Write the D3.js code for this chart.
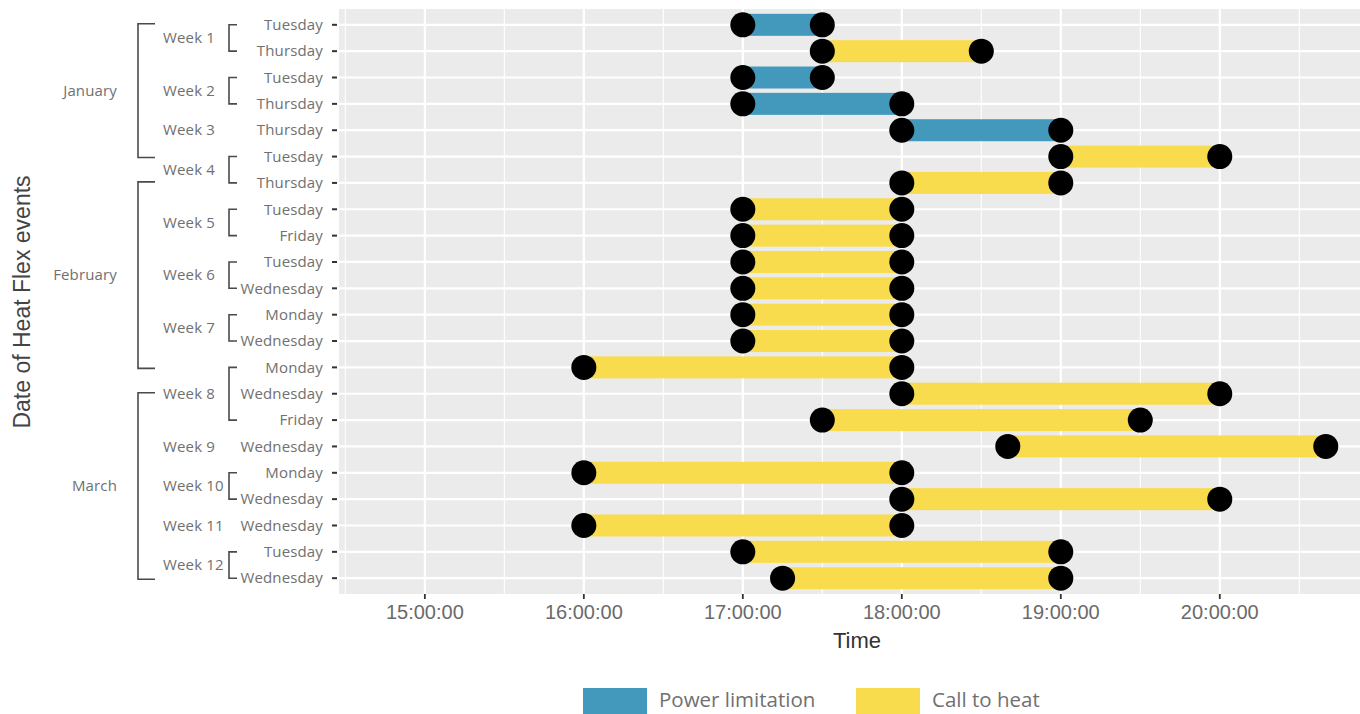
<!DOCTYPE html>
<html><head><meta charset="utf-8">
<script src="https://cdn.jsdelivr.net/npm/d3@7"></script>
<style>body{margin:0;background:#fff;} svg{display:block;}</style>
</head><body>
<svg id="c" width="1360" height="714"></svg>
<script>
// ---- data ----
const days = ["Tuesday","Thursday","Tuesday","Thursday","Thursday","Tuesday","Thursday","Tuesday","Friday","Tuesday","Wednesday","Monday","Wednesday","Monday","Wednesday","Friday","Wednesday","Monday","Wednesday","Wednesday","Tuesday","Wednesday"];
const weeks = [1,1,2,2,3,4,4,5,5,6,6,7,7,8,8,8,9,10,10,11,12,12];
const months = ["January","January","January","January","January","January","February","February","February","February","February","February","February","February","March","March","March","March","March","March","March","March"];
const startTimes = ["17:00","17:30","17:00","17:00","18:00","19:00","18:00","17:00","17:00","17:00","17:00","17:00","17:00","16:00","18:00","17:30","18:40","16:00","18:00","16:00","17:00","17:15"];
const endTimes   = ["17:30","18:30","17:30","18:00","19:00","20:00","19:00","18:00","18:00","18:00","18:00","18:00","18:00","18:00","20:00","19:30","20:40","18:00","20:00","18:00","19:00","19:00"];
const eventTypes = ["Power limitation","Call to heat","Power limitation","Power limitation","Power limitation","Call to heat","Call to heat","Call to heat","Call to heat","Call to heat","Call to heat","Call to heat","Call to heat","Call to heat","Call to heat","Call to heat","Call to heat","Call to heat","Call to heat","Call to heat","Call to heat","Call to heat"];
const typeNames = ["Power limitation","Call to heat"];
const typeColors = ["#4399bb","#f8dc4e"];
const xTickHours = [15,16,17,18,19,20];

// ---- setup ----
const svg = d3.select("#c");
const toH = s => { const [h,m] = s.split(":").map(Number); return h + m/60; };
const P = {l:339, r:1360, t:9, b:594};
const x = d3.scaleLinear().domain([14.46, 20.882]).range([P.l, P.r]);
const idx = d3.range(days.length);
const y = d3.scalePoint().domain(idx).range([P.t, P.b]).padding(0.6);
const color = d3.scaleOrdinal().domain(typeNames).range(typeColors);
const labelFont = "'Open Sans', sans-serif";
const lblSize = 15, lblSpacing = 0.15, lblColor = "#707070";

// panel
svg.append("rect").attr("x",P.l).attr("y",P.t).attr("width",P.r-P.l).attr("height",P.b-P.t).attr("fill","#ebebeb");
const minor = d3.range(14.5, 20.9, 1);
svg.selectAll(".vmin").data(minor).join("line")
  .attr("x1",d=>x(d)).attr("x2",d=>x(d)).attr("y1",P.t).attr("y2",P.b)
  .attr("stroke","#fff").attr("stroke-width",1.1);
svg.selectAll(".vmaj").data(xTickHours).join("line")
  .attr("x1",d=>x(d)).attr("x2",d=>x(d)).attr("y1",P.t).attr("y2",P.b)
  .attr("stroke","#fff").attr("stroke-width",2.2);
svg.selectAll(".hgrid").data(idx).join("line")
  .attr("x1",P.l).attr("x2",P.r).attr("y1",d=>y(d)).attr("y2",d=>y(d))
  .attr("stroke","#fff").attr("stroke-width",2.2);

// bars
const barH = 22;
svg.selectAll(".bar").data(idx).join("rect")
  .attr("x",i=>x(toH(startTimes[i]))).attr("width",i=>x(toH(endTimes[i]))-x(toH(startTimes[i])))
  .attr("y",i=>y(i)-barH/2).attr("height",barH)
  .attr("fill",i=>color(eventTypes[i]));
// dots
const pts = idx.flatMap(i=>[{i,t:startTimes[i]},{i,t:endTimes[i]}]);
svg.selectAll(".dot").data(pts).join("circle")
  .attr("cx",d=>x(toH(d.t))).attr("cy",d=>y(d.i)).attr("r",12.5).attr("fill","#000");

// y ticks + day labels
svg.selectAll(".yt").data(idx).join("line")
  .attr("x1",332).attr("x2",337).attr("y1",d=>y(d)).attr("y2",d=>y(d))
  .attr("stroke","#333").attr("stroke-width",2);
svg.selectAll(".dl").data(idx).join("text")
  .attr("x",323).attr("y",d=>y(d)).attr("dy","0.35em").attr("text-anchor","end")
  .attr("font-family",labelFont).attr("font-size",lblSize).attr("letter-spacing",lblSpacing).attr("fill",lblColor)
  .text(d=>days[d]);

// week groups
const weekGroups = d3.groups(idx, i=>weeks[i]);
const br = svg.append("g").attr("stroke","#4a4a4a").attr("stroke-width",1.6).attr("fill","none");
weekGroups.forEach(([w, rows])=>{
  const y0 = y(rows[0]), y1 = y(rows[rows.length-1]), ym = (y0+y1)/2;
  svg.append("text").attr("x",163).attr("y",ym).attr("dy","0.35em")
    .attr("font-family",labelFont).attr("font-size",lblSize).attr("letter-spacing",lblSpacing).attr("fill",lblColor).text("Week "+w);
  if(rows.length>1){
    br.append("path").attr("d",`M237,${y0}H229V${y1}H237`);
  }
});
// month groups
const monthGroups = d3.groups(idx, i=>months[i]);
monthGroups.forEach(([m, rows])=>{
  const y0 = y(rows[0]), y1 = y(rows[rows.length-1]), ym = (y0+y1)/2;
  svg.append("text").attr("x",117).attr("y",ym).attr("dy","0.35em").attr("text-anchor","end")
    .attr("font-family",labelFont).attr("font-size",lblSize).attr("letter-spacing",lblSpacing).attr("fill",lblColor).text(m);
  br.append("path").attr("d",`M155,${y0-1}H138V${y1+1}H155`);
});

// x axis
svg.selectAll(".xt").data(xTickHours).join("line")
  .attr("x1",d=>x(d)).attr("x2",d=>x(d)).attr("y1",P.b).attr("y2",P.b+5)
  .attr("stroke","#333").attr("stroke-width",1.8);
svg.selectAll(".xl").data(xTickHours).join("text")
  .attr("x",d=>x(d)).attr("y",619).attr("text-anchor","middle")
  .attr("font-family","'Liberation Sans', Arial, sans-serif").attr("font-size",20).attr("fill","#6a6a6a")
  .text(d=>d3.format("02")(d)+":00:00");
svg.append("text").attr("x",857).attr("y",648).attr("text-anchor","middle")
  .attr("font-family","'Liberation Sans', Arial, sans-serif").attr("font-size",22).attr("fill","#333")
  .text("Time");
svg.append("text").attr("transform","translate(30,302) rotate(-90)").attr("text-anchor","middle")
  .attr("font-family","'Liberation Sans', Arial, sans-serif").attr("font-size",23).attr("fill","#444")
  .text("Date of Heat Flex events");

// legend
const legX = [583, 856];
typeNames.forEach((t,k)=>{
  svg.append("rect").attr("x",legX[k]).attr("y",688).attr("width",64).attr("height",30).attr("fill",typeColors[k]);
  svg.append("text").attr("x",legX[k]+76).attr("y",707)
    .attr("font-family",labelFont).attr("font-size",20.5).attr("fill",lblColor).text(t);
});
</script>
</body></html>
